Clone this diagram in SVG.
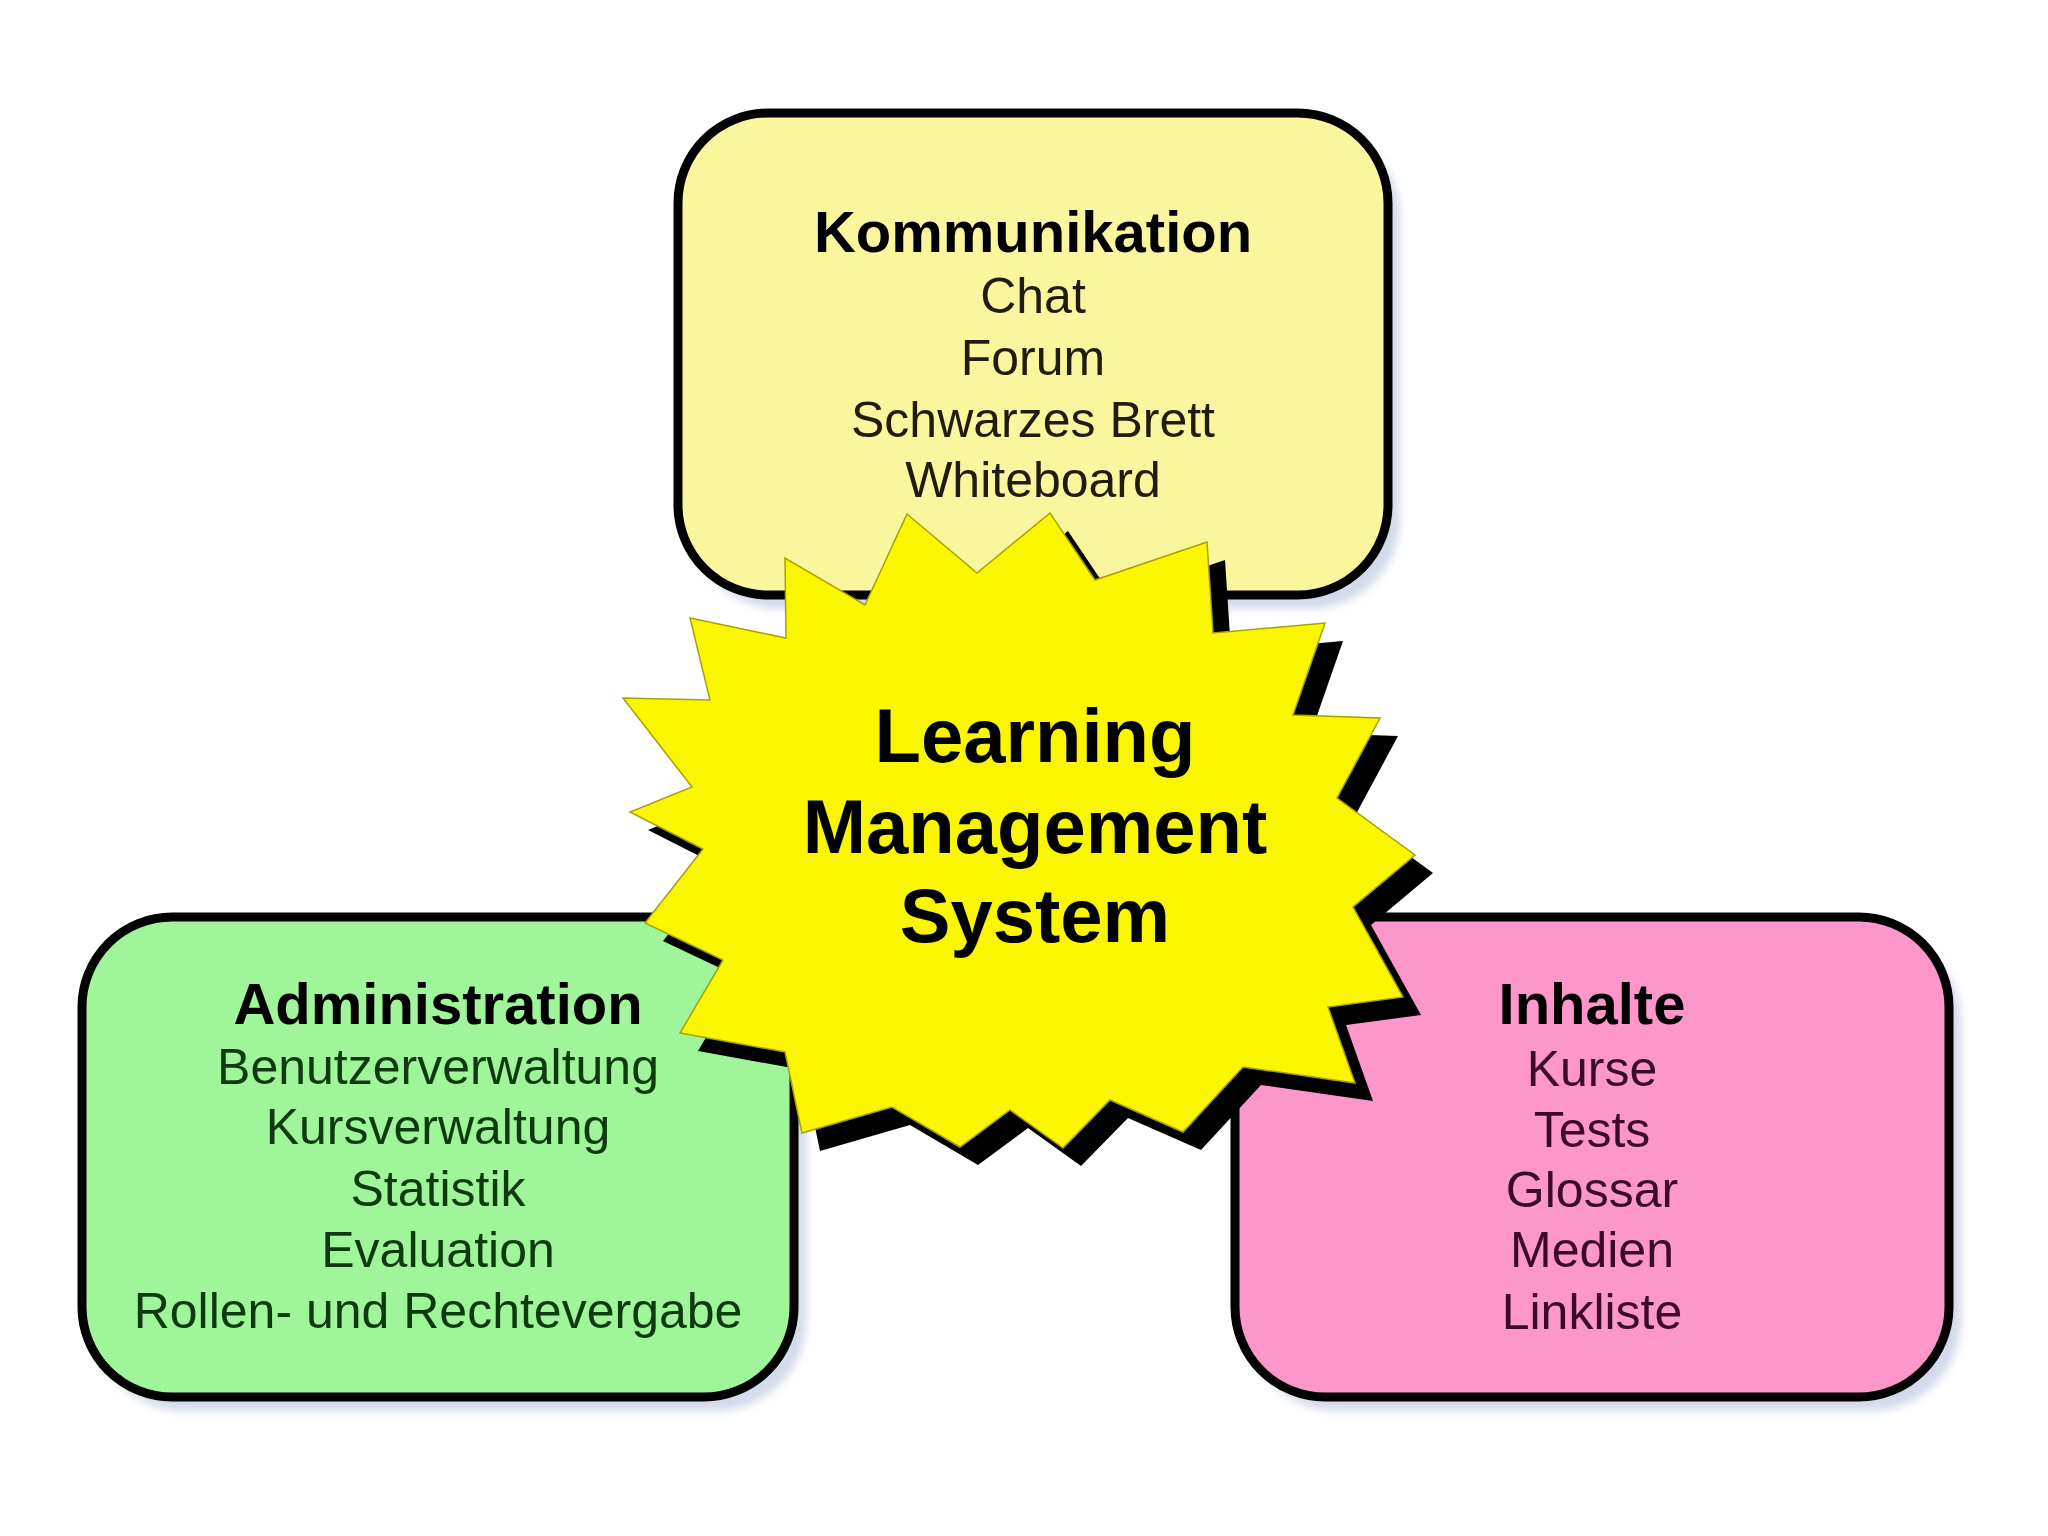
<svg xmlns="http://www.w3.org/2000/svg" xmlns:xlink="http://www.w3.org/1999/xlink" width="2048" height="1536" viewBox="0 0 2048 1536">
  <defs>
    <filter id="soft" x="-10%" y="-10%" width="120%" height="120%">
      <feGaussianBlur stdDeviation="4"/>
    </filter>
    <polygon id="starShape" points="907,514 977,573 1050,513 1095,580 1207,542 1213,633 1325,623 1293,715 1380,718 1337,798 1415,855 1353,907 1403,997 1328,1007 1355,1083 1243,1067 1183,1132 1110,1100 1063,1148 1010,1110 960,1147 892,1107 802,1133 785,1052 680,1033 723,960 645,923 703,849 630,812 692,787 623,698 710,700 690,618 786,638 785,558 865,605"/>
  </defs>
  <style>
    .shadow { fill: #d3dae9; filter: url(#soft); }
    .box { stroke: #000; stroke-width: 9; }
    .t { font-family: "Liberation Sans", Arial, sans-serif; text-anchor: middle; }
    .head { font-size: 58px; font-weight: bold; fill: #000; }
    .item { font-size: 50px; }
    .lms { font-size: 76px; font-weight: bold; fill: #000; }
  </style>
  <rect width="2048" height="1536" fill="#ffffff"/>

  <g id="kommunikation">
    <rect class="shadow" x="690" y="127" width="710" height="482" rx="90"/>
    <rect class="box" x="678" y="113" width="710" height="482" rx="90" fill="#faf69e"/>
    <text class="t head" x="1033" y="252">Kommunikation</text>
    <text class="t item" fill="#201c10" x="1033" y="313">Chat</text>
    <text class="t item" fill="#201c10" x="1033" y="375">Forum</text>
    <text class="t item" fill="#201c10" x="1033" y="437">Schwarzes Brett</text>
    <text class="t item" fill="#201c10" x="1033" y="497">Whiteboard</text>
  </g>

  <g id="administration">
    <rect class="shadow" x="94" y="931" width="712" height="480" rx="90"/>
    <rect class="box" x="82" y="917" width="712" height="480" rx="90" fill="#a0f49a"/>
    <text class="t head" x="438" y="1024">Administration</text>
    <text class="t item" fill="#0f3a10" x="438" y="1084">Benutzerverwaltung</text>
    <text class="t item" fill="#0f3a10" x="438" y="1144">Kursverwaltung</text>
    <text class="t item" fill="#0f3a10" x="438" y="1206">Statistik</text>
    <text class="t item" fill="#0f3a10" x="438" y="1267">Evaluation</text>
    <text class="t item" fill="#0f3a10" x="438" y="1328">Rollen- und Rechtevergabe</text>
  </g>

  <g id="inhalte">
    <rect class="shadow" x="1247" y="931" width="714" height="480" rx="90"/>
    <rect class="box" x="1235" y="917" width="714" height="480" rx="90" fill="#fd97ca"/>
    <text class="t head" x="1592" y="1024" fill="#1a0410">Inhalte</text>
    <text class="t item" fill="#3a0a28" x="1592" y="1086">Kurse</text>
    <text class="t item" fill="#3a0a28" x="1592" y="1147">Tests</text>
    <text class="t item" fill="#3a0a28" x="1592" y="1207">Glossar</text>
    <text class="t item" fill="#3a0a28" x="1592" y="1267">Medien</text>
    <text class="t item" fill="#3a0a28" x="1592" y="1329">Linkliste</text>
  </g>

  <g id="lms">
    <use xlink:href="#starShape" href="#starShape" transform="translate(18,18)" fill="#000000"/>
    <use xlink:href="#starShape" href="#starShape" fill="#faf500" stroke="#a8a200" stroke-width="1.5" stroke-linejoin="miter"/>
    <text class="t lms" x="1035" y="762">Learning</text>
    <text class="t lms" x="1035" y="853">Management</text>
    <text class="t lms" x="1035" y="942">System</text>
  </g>

  <g id="connectors"/>
</svg>
